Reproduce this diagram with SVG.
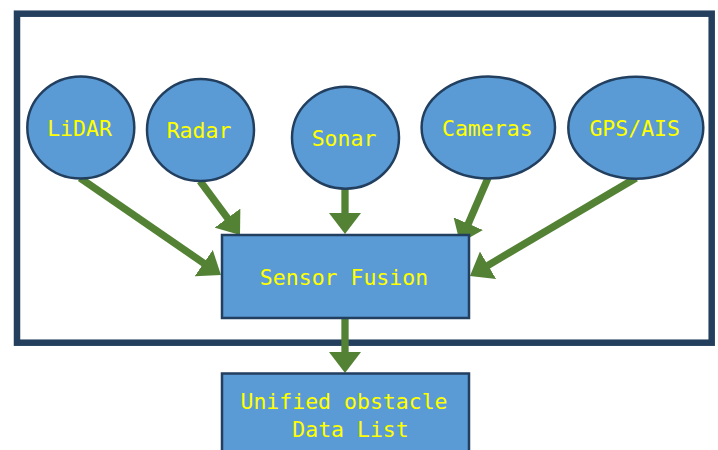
<svg xmlns="http://www.w3.org/2000/svg" width="718" height="450" viewBox="0 0 718 450">
<style>
.frame{fill:none;stroke:#243F5E;stroke-width:6.5}
.node{fill:#5B9BD5;stroke:#223F5F;stroke-width:2.5}
.lbl{fill:#FFFF00;font-family:"DejaVu Sans Mono","Liberation Mono",monospace;font-size:21.5px;text-anchor:middle}
.conn{stroke:#548235;stroke-width:7.3;fill:none;marker-end:url(#ah)}
</style>
<defs>
<marker id="ah" markerUnits="userSpaceOnUse" viewBox="0 0 21 32" markerWidth="21" markerHeight="32" refX="1" refY="16" orient="auto">
<path d="M0,0 L21,16 L0,32 Z" fill="#548235"/>
</marker>
</defs>
<rect width="718" height="450" fill="#FFFFFF"/>
<rect id="frame" class="frame" x="17" y="13.7" width="694.7" height="329"/>
<g id="connectors">
<line class="conn" x1="80" y1="178" x2="204.5" y2="263.7"/>
<line class="conn" x1="200" y1="181" x2="228.1" y2="218.9"/>
<line class="conn" x1="345" y1="189" x2="345" y2="214"/>
<line class="conn" x1="488" y1="178" x2="467.9" y2="224.6"/>
<line class="conn" x1="636" y1="178" x2="487.2" y2="265.8"/>
<line class="conn" x1="345" y1="318" x2="345" y2="353"/>
</g>
<g id="lidar"><ellipse class="node" cx="80.8" cy="127.5" rx="53.5" ry="51"/><text class="lbl" x="79.5" y="136">LiDAR</text></g>
<g id="radar"><ellipse class="node" cx="200.5" cy="130" rx="53.5" ry="51"/><text class="lbl" x="199" y="137.7">Radar</text></g>
<g id="sonar"><ellipse class="node" cx="345.5" cy="137.7" rx="53.5" ry="51"/><text class="lbl" x="344" y="145.7">Sonar</text></g>
<g id="cameras"><ellipse class="node" cx="488.3" cy="127.5" rx="66.7" ry="51"/><text class="lbl" x="487.3" y="136">Cameras</text></g>
<g id="gpsais"><ellipse class="node" cx="635.8" cy="127.8" rx="67.5" ry="51"/><text class="lbl" x="634.7" y="136">GPS/AIS</text></g>
<g id="fusion"><rect class="node" x="222" y="235" width="247" height="83"/><text class="lbl" x="344" y="285.3">Sensor Fusion</text></g>
<g id="unified"><rect class="node" x="222" y="373.5" width="247" height="90"/><text class="lbl" x="344" y="409">Unified obstacle</text><text class="lbl" x="350.5" y="436.7">Data List</text></g>
</svg>
